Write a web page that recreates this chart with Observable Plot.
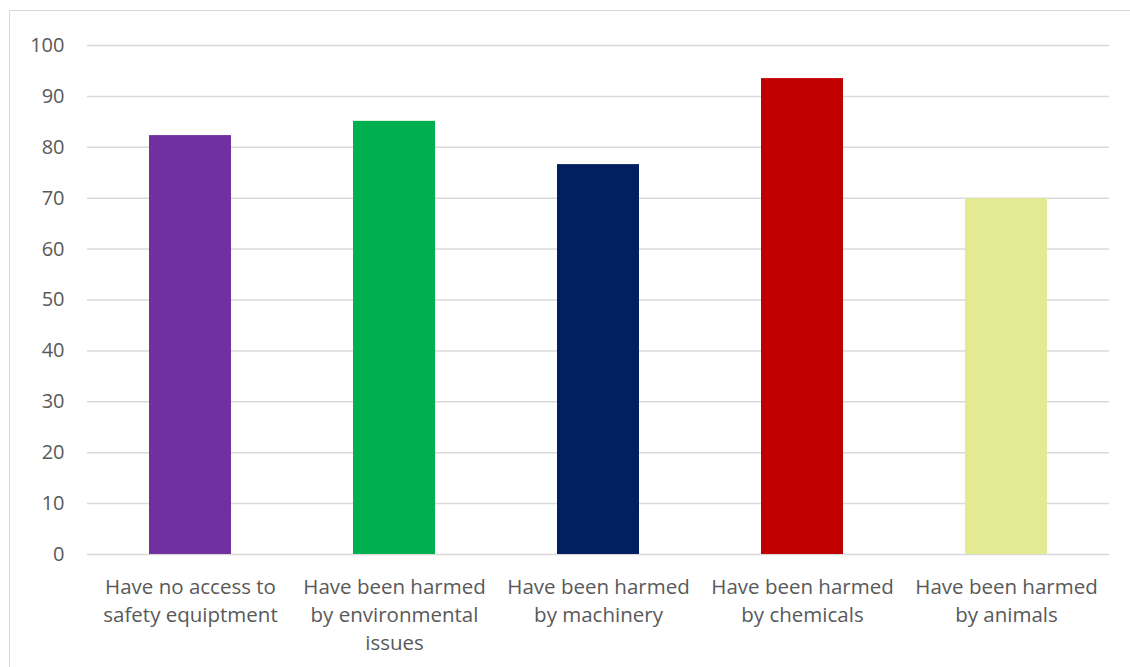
<!DOCTYPE html>
<html>
<head>
<meta charset="utf-8">
<script src="https://cdn.jsdelivr.net/npm/d3@7"></script>
<script src="https://cdn.jsdelivr.net/npm/@observablehq/plot@0.6"></script>
<style>
  html, body { margin: 0; padding: 0; background: #fff; }
  #wrap { position: relative; width: 1130px; height: 667px; overflow: hidden; }
  #border { position: absolute; left: 9px; top: 10px; right: -5px; bottom: -5px;
            border-left: 1px solid #d9d9d9; border-top: 1px solid #d9d9d9; }
  #chart { position: absolute; left: 0; top: 0; }
</style>
</head>
<body>
<div id="wrap"><div id="border"></div><div id="chart"></div></div>
<script>
const categories = [
  "Have no access to\nsafety equiptment",
  "Have been harmed\nby environmental\nissues",
  "Have been harmed\nby machinery",
  "Have been harmed\nby chemicals",
  "Have been harmed\nby animals"
];
const values = [82.3, 85.1, 76.6, 93.5, 69.9];
const colors = ["#7030A0", "#00B050", "#002060", "#C00000", "#E4EA92"];
const yTicks = [0, 10, 20, 30, 40, 50, 60, 70, 80, 90, 100];

const data = categories.map((c, i) => ({category: c, value: values[i], color: colors[i]}));

const chart = Plot.plot({
  width: 1130,
  height: 667,
  marginLeft: 87,
  marginRight: 21,
  marginTop: 45,
  marginBottom: 113,
  style: {fontFamily: "'Open Sans', Lato, sans-serif", background: "transparent"},
  x: {domain: categories, paddingInner: 0.6, paddingOuter: 0.3},
  y: {domain: [0, 100]},
  marks: [
    Plot.gridY(yTicks, {stroke: "#d9d9d9", strokeOpacity: 1, strokeWidth: 1.5}),
    Plot.barY(data, {x: "category", y: "value", fill: "color"}),
    Plot.axisY(yTicks, {tickSize: 0, tickPadding: 23, fontSize: 20, fill: "#595959", label: null}),
    Plot.axisX({tickSize: 0, tickPadding: 19, fontSize: 20.5, fill: "#595959", lineHeight: 1.38, label: null})
  ]
});
document.getElementById("chart").appendChild(chart);
</script>
</body>
</html>
